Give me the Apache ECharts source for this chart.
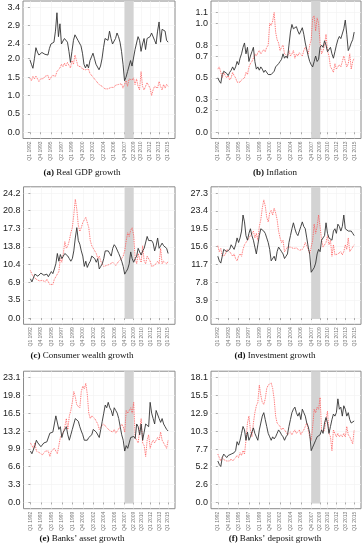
<!DOCTYPE html>
<html><head><meta charset="utf-8">
<script src="https://cdn.jsdelivr.net/npm/echarts@6/dist/echarts.min.js"></script>
<style>html,body{margin:0;padding:0;background:#fff}#c{width:364px;height:550px}</style>
</head><body><div id="c"></div>
<script>
// Quarter tick labels (Q1 1992 .. Q1 2015, quarterly data, 93 points)
const xTickLabels = ['Q1 1992','Q4 1993','Q3 1995','Q2 1997','Q1 1999','Q4 2000','Q3 2002','Q2 2004','Q1 2006','Q4 2007','Q2 2009','Q3 2010','Q1 2012','Q3 2013','Q1 2015'];
// Recession shading (Q4 2007 - Q2 2009)
const shadeFrom = 'Q4 2007', shadeTo = 'Q2 2009';

const panelLetters = ['a','b','c','d','e','f'];
const panelTitles = ['Real GDP growth','Inflation','Consumer wealth growth','Investment growth','Banks\u2019 asset growth','Banks\u2019 deposit growth'];

const yTicksA = ['0.0','0.5','1.0','1.5','2.0','2.4','2.9','3.4'];
const yTicksB = ['0.0','0.2','0.3','0.5','0.7','0.8','1.0','1.1'];
const yTicksC = ['0.0','3.5','6.9','10.4','13.8','17.3','20.8','24.2'];
const yTicksD = ['0.0','3.9','7.8','11.7','15.6','19.5','23.4','27.3'];
const yTicksE = ['0.0','3.3','6.6','9.9','13.2','16.5','19.8','23.1'];
const yTicksF = ['0.0','2.6','5.2','7.7','10.3','12.9','15.5','18.1'];

// Data ranges (upper end before 5% padding)
const yRange = [3.4, 1.148, 24.2, 27.3, 23.1, 18.1];

// Solid (black) and dotted (red) series per panel
const gdpSolid = [1.97,1.85,1.74,2.00,2.30,2.18,2.10,2.12,2.17,2.15,
 2.12,2.08,2.10,2.28,2.40,2.35,2.45,2.75,3.25,2.60,
 2.95,2.40,2.48,2.55,2.60,2.45,2.20,1.90,2.20,2.50,
 2.65,2.70,2.50,2.45,2.35,2.15,1.85,1.75,1.85,1.75,
 1.95,2.05,2.15,2.00,1.85,1.90,1.70,1.80,2.00,2.30,
 2.55,2.60,2.50,2.75,2.55,2.40,2.35,2.55,2.70,2.60,
 2.45,2.20,1.85,1.40,1.50,1.65,1.70,1.95,1.80,1.75,
 2.25,2.30,2.60,2.50,2.20,2.40,2.55,2.25,2.55,2.60,
 2.60,2.70,2.65,2.50,2.40,2.75,3.00,2.45,2.80,2.80,
 2.75,2.50,2.45];
const gdpDotted = [1.47,1.40,1.52,1.45,1.53,1.48,1.38,1.45,1.40,1.46,
 1.52,1.48,1.55,1.42,1.45,1.55,1.58,1.52,1.65,1.60,
 1.75,1.85,1.78,1.88,1.80,1.90,1.82,1.75,1.95,1.85,
 2.10,1.95,1.80,1.85,1.78,1.72,1.75,1.70,1.65,1.72,
 1.60,1.55,1.50,1.45,1.40,1.35,1.30,1.28,1.25,1.20,
 1.18,1.22,1.18,1.20,1.22,1.25,1.22,1.28,1.25,1.30,
 1.28,1.32,1.20,1.15,1.40,1.25,1.45,1.50,1.42,1.48,
 1.30,1.45,1.25,1.15,1.65,1.25,1.15,1.20,1.35,1.40,
 1.20,1.00,1.15,1.25,1.30,1.20,1.38,1.25,1.15,1.30,
 1.20,1.30,1.25];

const inflSolid = [0.50,0.47,0.45,0.53,0.56,0.55,0.54,0.52,0.55,0.57,
 0.60,0.57,0.60,0.65,0.62,0.68,0.72,0.78,0.82,0.72,
 0.78,0.65,0.70,0.74,0.78,0.65,0.58,0.60,0.57,0.60,
 0.58,0.55,0.57,0.58,0.53,0.52,0.53,0.54,0.56,0.60,
 0.60,0.63,0.65,0.67,0.72,0.68,0.70,0.68,0.80,0.92,
 0.99,0.95,0.96,0.97,0.93,0.90,0.93,0.96,0.90,0.82,
 0.76,0.70,0.65,0.62,0.60,0.65,0.70,0.65,0.67,0.78,
 0.80,0.78,0.84,0.80,0.74,0.73,0.78,0.72,0.68,0.74,
 0.80,0.85,0.88,0.86,0.85,0.95,1.03,0.90,0.75,0.78,
 0.82,0.85,0.92];
const inflDotted = [0.58,0.60,0.55,0.50,0.55,0.52,0.50,0.52,0.48,0.50,
 0.55,0.52,0.50,0.46,0.47,0.46,0.48,0.48,0.50,0.55,
 0.53,0.60,0.63,0.65,0.68,0.72,0.70,0.73,0.75,0.72,
 0.74,0.76,0.74,0.78,0.80,1.00,0.98,1.02,1.10,0.92,
 0.85,0.82,0.75,0.78,0.80,0.72,0.73,0.70,0.75,0.70,
 0.72,0.75,0.68,0.72,0.70,0.73,0.72,0.70,0.75,0.78,
 0.78,0.72,0.80,0.85,1.05,1.07,0.93,1.05,1.00,0.82,
 0.72,0.75,0.80,0.90,0.75,0.70,0.60,0.58,0.55,0.63,
 0.58,0.60,0.62,0.60,0.65,0.70,0.65,0.60,0.63,0.72,
 0.58,0.65,0.68];

const wealthSolid = [7.6,7.0,6.8,8.5,8.3,8.1,8.2,8.7,8.5,8.3,
 8.4,8.5,8.0,8.2,9.0,8.6,9.5,10.5,12.5,11.0,
 12.3,11.5,12.0,12.5,12.8,12.0,11.5,11.0,11.5,13.0,
 15.5,17.5,15.0,14.3,13.0,12.0,10.0,11.0,9.8,10.5,
 11.0,12.0,12.2,11.5,10.8,11.5,9.5,10.0,10.5,11.5,
 13.0,13.2,13.0,12.8,12.0,13.5,14.2,13.8,13.5,12.5,
 11.8,11.0,10.0,8.5,9.0,9.5,10.5,12.8,11.5,10.8,
 11.5,12.0,13.5,12.8,12.2,13.0,13.5,13.2,15.8,15.0,
 15.2,15.0,14.5,13.0,14.0,15.5,13.5,14.0,14.5,14.0,
 13.8,13.5,12.5];
const wealthDotted = [9.2,8.5,8.0,7.8,7.5,7.3,7.2,7.4,7.3,7.2,
 7.0,7.5,7.0,6.5,6.2,6.5,7.5,8.0,7.8,9.0,
 11.5,10.8,12.5,14.8,13.5,14.0,15.0,16.5,17.5,20.0,
 23.0,21.0,18.0,16.8,17.5,18.5,19.0,19.5,19.2,17.5,
 15.0,14.0,13.5,13.0,12.5,11.5,12.0,11.0,10.5,10.0,
 10.3,10.2,10.5,10.4,10.6,10.8,10.5,10.2,10.5,11.0,
 11.2,11.5,12.0,13.0,15.0,16.5,15.8,17.0,17.5,16.0,
 11.5,10.5,12.5,11.5,10.8,14.0,11.0,10.5,12.0,11.8,
 11.0,10.0,9.8,10.2,10.5,11.0,10.5,13.5,10.5,11.0,
 10.8,10.5,11.0];

const investSolid = [13.5,12.5,12.0,13.5,15.0,14.8,14.5,14.5,15.0,16.0,
 15.5,15.0,16.0,17.5,16.5,17.5,19.0,22.5,21.0,18.0,
 17.0,18.5,19.5,18.0,17.0,15.5,14.0,16.0,18.0,19.5,
 19.8,19.0,18.5,17.5,16.5,15.0,12.5,12.8,13.5,12.5,
 14.5,15.5,15.0,14.5,14.0,13.0,13.5,14.0,16.5,18.0,
 19.5,20.8,19.5,18.5,18.0,19.0,20.0,21.0,20.0,19.5,
 17.5,15.5,14.0,10.0,10.5,11.0,12.0,14.0,15.0,14.5,
 17.0,17.5,18.0,20.8,18.5,17.5,17.2,17.0,19.0,19.5,
 18.5,20.5,20.0,19.0,20.0,22.5,19.5,19.2,19.0,19.0,
 19.0,18.5,18.0];
const investDotted = [15.8,14.5,15.2,13.5,13.8,13.8,15.0,14.8,14.5,14.0,
 13.5,14.0,13.0,12.5,13.5,14.0,13.5,15.0,16.0,16.5,
 17.0,17.5,18.0,18.5,19.0,17.5,18.5,17.0,20.0,21.5,
 24.0,25.8,24.5,22.0,21.0,23.0,23.5,22.5,24.0,23.0,
 21.5,19.0,17.5,16.5,17.0,14.5,15.0,15.5,15.8,15.5,
 15.5,15.2,15.0,15.3,15.5,14.8,15.0,15.0,15.5,16.5,
 15.8,15.0,14.0,15.5,17.0,20.5,18.5,20.0,22.5,20.0,
 17.0,15.5,16.0,16.5,18.0,16.0,17.0,13.5,16.0,13.8,
 14.0,14.0,14.2,14.5,13.8,14.5,16.0,15.0,17.5,14.5,
 15.0,15.5,16.0];

const assetSolid = [9.5,9.0,8.8,10.5,11.5,11.0,10.8,10.3,10.5,11.0,
 11.0,11.2,11.5,12.8,12.5,13.0,14.5,16.0,15.8,13.5,
 14.0,12.0,13.0,13.5,14.0,12.5,11.5,12.5,13.5,14.5,
 15.5,15.3,15.0,14.0,13.2,12.5,11.5,11.5,11.5,12.0,
 12.2,12.5,13.5,13.2,13.0,12.8,12.0,13.5,15.0,16.5,
 18.0,17.5,18.5,17.5,17.0,16.0,17.5,17.0,16.5,15.5,
 14.0,12.5,11.5,9.5,10.5,10.0,11.0,12.0,11.8,12.2,
 11.8,14.5,14.0,12.5,14.5,11.5,13.0,14.5,14.2,14.0,
 18.5,16.5,15.5,14.5,17.0,17.2,15.5,14.8,15.5,14.5,
 14.0,13.5,13.2];
const assetDotted = [11.0,10.5,10.0,11.0,9.5,9.3,9.2,9.0,8.8,9.0,
 9.5,9.8,9.5,8.5,9.5,9.8,10.0,9.5,9.0,10.5,
 12.0,12.5,13.0,14.0,15.5,13.5,16.0,17.0,18.5,20.5,
 19.5,18.0,17.8,17.5,20.5,21.5,21.0,22.0,20.0,16.5,
 15.5,16.0,15.8,15.5,15.0,14.5,13.5,14.0,14.0,14.5,
 14.2,13.8,13.5,13.3,13.0,13.0,13.5,12.8,13.2,13.5,
 14.0,14.5,14.0,13.0,17.0,16.5,17.0,17.5,16.5,18.5,
 12.0,11.5,11.0,13.5,15.5,11.0,10.5,8.5,11.5,12.5,
 10.0,11.0,11.5,11.0,11.5,12.0,11.5,13.0,11.5,11.0,
 10.5,10.0,11.5];

const depositSolid = [6.0,5.5,5.2,6.5,7.0,6.8,6.5,6.8,7.0,7.0,
 6.8,7.2,7.5,8.8,8.3,9.0,10.0,11.0,10.5,9.0,
 10.2,9.0,9.5,10.2,10.8,10.0,9.5,9.0,10.5,11.5,
 12.5,13.0,12.0,11.0,10.0,9.5,9.0,9.5,9.2,9.5,
 10.0,10.5,10.2,9.8,9.5,9.0,9.5,9.8,11.0,12.0,
 13.0,13.5,13.8,13.0,12.5,13.0,12.0,13.5,13.0,12.5,
 11.5,11.0,10.0,7.5,8.0,8.0,9.0,9.5,9.5,9.8,
 10.5,10.0,11.5,12.3,11.5,10.0,11.0,12.0,12.8,12.5,
 13.0,15.0,13.5,13.8,12.5,14.0,13.5,12.5,13.0,12.0,
 11.5,11.5,11.8];
const depositDotted = [7.0,6.5,6.0,6.5,6.2,6.0,6.0,5.8,6.0,6.3,
 6.0,6.0,6.5,6.8,6.5,7.2,6.8,7.5,7.0,9.0,
 11.5,12.5,10.5,9.5,11.5,13.0,14.0,14.5,17.0,15.5,
 14.5,14.2,15.0,16.5,17.0,17.0,17.3,16.5,15.0,12.5,
 11.5,11.5,11.0,10.5,10.8,10.5,10.2,9.8,10.0,10.2,
 9.8,10.2,10.5,10.0,10.2,10.5,9.8,10.2,10.5,11.0,
 11.5,10.5,9.5,9.0,11.0,13.5,13.0,13.8,13.5,15.2,
 10.5,10.2,10.5,12.0,13.2,10.0,9.5,7.5,10.5,10.0,
 9.5,10.0,9.5,9.8,9.5,10.0,9.5,11.0,9.8,9.5,
 9.0,8.5,10.5];

const solidSeries = [gdpSolid, inflSolid, wealthSolid, investSolid, assetSolid, depositSolid];
const dottedSeries = [gdpDotted, inflDotted, wealthDotted, investDotted, assetDotted, depositDotted];
const yTickSets = [yTicksA, yTicksB, yTicksC, yTicksD, yTicksE, yTicksF];

// ---- layout / style ----
const qIndex = s => (parseInt(s.slice(3), 10) - 1992) * 4 + parseInt(s[1], 10) - 1;
const xTickIdx = xTickLabels.map(qIndex);
const nQ = gdpSolid.length - 1;
const colLeft = [23, 211], colWidth = [152, 150];
const rowTop = [1, 186.8, 371.2];
const plotH = 137.5;
const captionX = [82, 275], captionY = [173, 356, 539];
const shadeBottomFrac = [-0.05, -0.05, -0.008, -0.008, -0.008, -0.008];

const grids = [], xAxes = [], yAxes = [], series = [], graphics = [];
for (let p = 0; p < 6; p++) {
  const col = p % 2, row = Math.floor(p / 2);
  const R = yRange[p];
  const yVals = yTickSets[p].map(Number);
  grids.push({left: colLeft[col], width: colWidth[col], top: rowTop[row], height: plotH,
    show: true, borderColor: '#8a8a8a', borderWidth: 1, backgroundColor: '#fff'});
  xAxes.push({type: 'value', gridIndex: p, min: -0.05 * nQ, max: 1.05 * nQ,
    axisLine: {show: false},
    axisTick: {show: true, length: 2, customValues: xTickIdx, lineStyle: {color: '#777', width: 0.6}},
    axisLabel: {customValues: xTickIdx, rotate: 90, fontSize: 5, color: '#777', margin: 3,
      fontFamily: 'Liberation Sans', formatter: v => xTickLabels[xTickIdx.indexOf(Math.round(v))] || ''},
    splitLine: {show: true, lineStyle: {color: '#f1f1f1', width: 0.6}}});
  yAxes.push({type: 'value', gridIndex: p, min: -0.05 * R, max: 1.05 * R,
    axisLine: {show: false},
    axisTick: {show: true, length: 2, customValues: yVals, lineStyle: {color: '#777', width: 0.6}},
    axisLabel: {customValues: yVals, fontSize: 9, color: '#222', margin: 3,
      fontFamily: 'Liberation Sans', formatter: v => v.toFixed(1)},
    splitLine: {show: true, lineStyle: {color: '#f1f1f1', width: 0.6}}});
  series.push({type: 'line', xAxisIndex: p, yAxisIndex: p, z: 1, silent: true,
    data: [], markArea: {silent: true, itemStyle: {color: '#d3d3d3'},
      data: [[{xAxis: qIndex(shadeFrom), yAxis: shadeBottomFrac[p] * R}, {xAxis: qIndex(shadeTo), yAxis: 1.05 * R}]]}});
  series.push({type: 'line', xAxisIndex: p, yAxisIndex: p, z: 2, symbol: 'none', silent: true,
    data: dottedSeries[p].map((v, i) => [i, v]),
    lineStyle: {color: '#ff5252', width: 0.9, type: 'dotted'}});
  series.push({type: 'line', xAxisIndex: p, yAxisIndex: p, z: 3, symbol: 'none', silent: true,
    data: solidSeries[p].map((v, i) => [i, v]),
    lineStyle: {color: '#333', width: 0.9}});
  graphics.push({type: 'text', x: captionX[col], y: captionY[row],
    style: {text: '{b|(' + panelLetters[p] + ')} ' + panelTitles[p], align: 'center', verticalAlign: 'middle',
      fontFamily: 'Liberation Serif', fontSize: 9, fill: '#111',
      rich: {b: {fontWeight: 'bold', fontFamily: 'Liberation Serif', fontSize: 9, fill: '#111'}}}});
}

const chart = echarts.init(document.getElementById('c'), null, {renderer: 'canvas'});
chart.setOption({animation: false, backgroundColor: '#fff',
  grid: grids, xAxis: xAxes, yAxis: yAxes, series: series, graphic: graphics});
</script></body></html>
